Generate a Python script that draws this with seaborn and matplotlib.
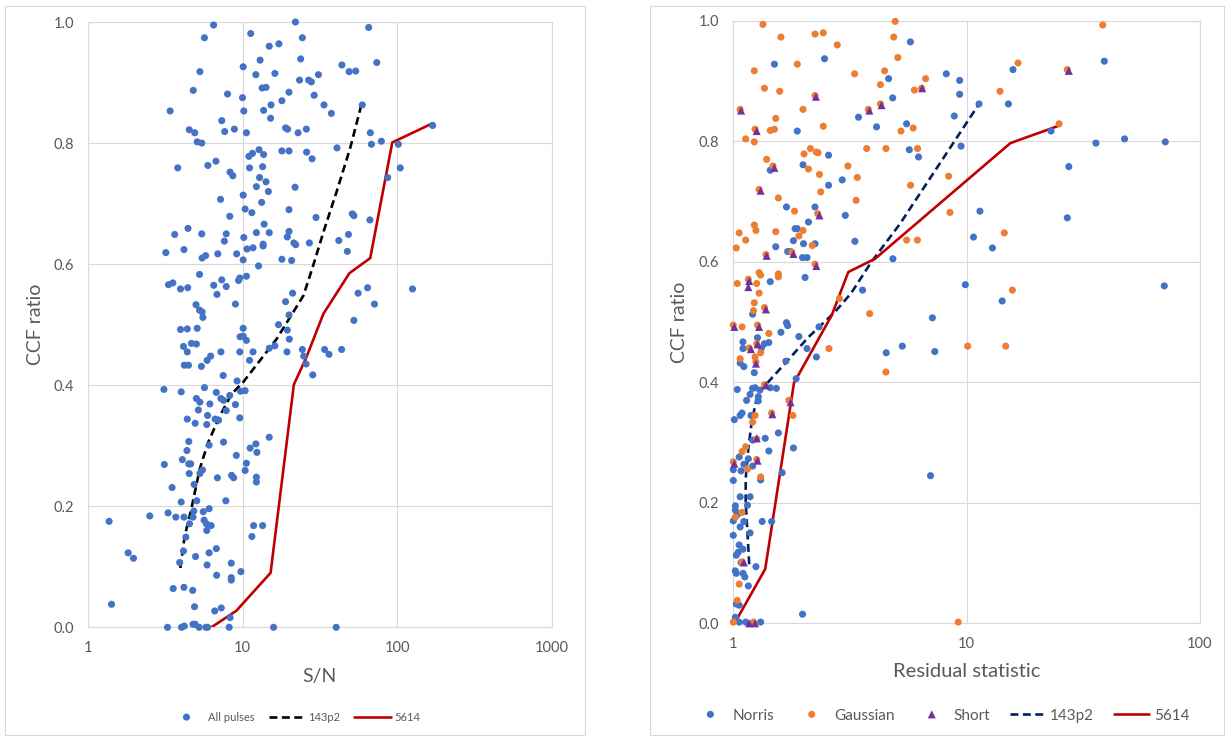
import numpy as np
import matplotlib
matplotlib.use("Agg")
import matplotlib.pyplot as plt
import seaborn as sns
from matplotlib.ticker import FixedLocator, FixedFormatter, NullLocator
from matplotlib.patches import Rectangle

sns.set_theme(style="white")
plt.rcParams["font.family"] = ["Lato", "DejaVu Sans"]

# ---------------- left panel data: S/N vs CCF ratio ----------------
sn_all = [
    6.5, 22.0, 65.6, 5.67, 11.3, 24.4, 17.2, 14.9, 74, 23.8,
    13.0, 44, 10.1, 49, 54, 5.3, 12.2, 16.2, 31, 23.4,
    26.8, 27.9, 4.8, 8.0, 20, 13.4, 14.2, 29.1, 10.0, 18.0,
    15.3, 33.7, 59.6, 3.4, 10.2, 13.7, 37.6, 15.2, 7.34, 4.52,
    4.91, 7.67, 8.86, 10.6, 19.0, 19.6, 22.9, 25.9, 67.2, 5.09,
    5.45, 68.3, 102, 79.2, 40.9, 18, 20, 12.8, 11.6, 13.7,
    11.0, 28.2, 26.0, 5.97, 6.73, 3.81, 11.1, 13.5, 8.31, 8.66,
    12.9, 14.2, 87, 105, 12.3, 14.7, 21.9, 10.1, 7.21, 13.3,
    10.4, 11.5, 20, 8.27, 29.9, 51.4, 52.6, 66.8, 4.44, 7.85,
    5.45, 3.64, 10.2, 19.5, 48.5, 12.3, 13.8, 14.9, 20, 42,
    7.63, 21.5, 22.1, 27.1, 4.18, 6.92, 3.19, 10.7, 11.7, 13.6,
    13.6, 47.7, 9.17, 18, 20.8, 5.48, 5.77, 10.1, 10.6, 12.7,
    5.27, 3.32, 3.54, 6.51, 7.34, 3.97, 4.42, 9.43, 7.85, 9.6,
    6.84, 64.5, 56, 21.1, 19.0, 71.5, 126, 20, 52.6, 9.0,
    5.0, 5.27, 5.48, 5.09, 5.54, 3.97, 4.39, 17.1, 34, 43.8,
    36.3, 10.1, 10.1, 9.65, 10.6, 9.6, 11.7, 7.25, 24.4, 16.2,
    14.9, 19.4, 20.1, 19.5, 5.03, 4.67, 4.15, 4.39, 5.9, 5.42,
    6.22, 11.1, 4.2, 4.47, 25.8, 24.9, 28.5, 7.5, 4.01, 3.1,
    5.67, 6.77, 7.25, 9.22, 8.27, 10.4, 9.71, 5.03, 5.3, 6.15,
    7.54, 9.0, 7.85, 6.65, 7.0, 9.6, 5.87, 4.94, 5.18, 4.39,
    5.94, 6.08, 7.54, 9.12, 11.2, 12.2, 12.4, 14.9, 4.49, 4.37,
    4.08, 4.49, 4.62, 3.12, 3.5, 4.52, 5.3, 5.51, 8.5, 8.76,
    6.88, 12.3, 12.3, 10.6, 10.4, 4.86, 5.06, 4.01, 7.8, 4.84,
    5.57, 6.08, 2.51, 3.3, 3.7, 4.18, 4.78, 4.54, 5.64, 5.84,
    6.26, 1.37, 11.8, 13.5, 4.3, 11.5, 5.87, 1.82, 1.97, 4.15,
    6.08, 6.77, 4.97, 3.92, 5.9, 8.46, 9.77, 6.8, 8.46, 8.46,
    3.56, 4.18, 4.76, 4.89, 6.61, 7.29, 1.42, 8.31, 170,
    3.27, 4.03, 4.2, 4.78, 5.24, 5.8, 5.94, 8.2, 15.9, 40.4, 4.94,
]
ccf_all = [
    0.995, 1.0, 0.991, 0.974, 0.981, 0.974, 0.964, 0.960, 0.933, 0.939,
    0.937, 0.929, 0.926, 0.918, 0.919, 0.918, 0.913, 0.915, 0.913, 0.904,
    0.904, 0.901, 0.887, 0.881, 0.884, 0.891, 0.892, 0.879, 0.875, 0.870,
    0.863, 0.863, 0.863, 0.853, 0.853, 0.854, 0.849, 0.841, 0.837, 0.822,
    0.817, 0.819, 0.823, 0.817, 0.825, 0.823, 0.817, 0.823, 0.817, 0.802,
    0.800, 0.798, 0.798, 0.803, 0.792, 0.787, 0.787, 0.789, 0.783, 0.781,
    0.778, 0.774, 0.785, 0.763, 0.770, 0.759, 0.759, 0.761, 0.752, 0.746,
    0.743, 0.736, 0.743, 0.759, 0.728, 0.720, 0.727, 0.714, 0.707, 0.702,
    0.691, 0.685, 0.690, 0.679, 0.677, 0.683, 0.680, 0.673, 0.659, 0.650,
    0.650, 0.649, 0.644, 0.645, 0.649, 0.652, 0.666, 0.652, 0.654, 0.639,
    0.638, 0.635, 0.632, 0.635, 0.624, 0.617, 0.619, 0.625, 0.627, 0.633,
    0.630, 0.621, 0.617, 0.608, 0.606, 0.610, 0.614, 0.607, 0.580, 0.597,
    0.583, 0.566, 0.569, 0.565, 0.574, 0.559, 0.561, 0.573, 0.563, 0.577,
    0.550, 0.561, 0.552, 0.552, 0.538, 0.534, 0.559, 0.516, 0.507, 0.534,
    0.533, 0.524, 0.521, 0.494, 0.512, 0.492, 0.493, 0.500, 0.459, 0.459,
    0.451, 0.494, 0.481, 0.480, 0.474, 0.455, 0.455, 0.455, 0.459, 0.465,
    0.461, 0.455, 0.476, 0.491, 0.468, 0.469, 0.464, 0.455, 0.441, 0.431,
    0.448, 0.441, 0.433, 0.433, 0.435, 0.448, 0.417, 0.416, 0.389, 0.393,
    0.396, 0.388, 0.378, 0.407, 0.383, 0.391, 0.390, 0.378, 0.372, 0.369,
    0.375, 0.368, 0.358, 0.344, 0.342, 0.346, 0.335, 0.337, 0.359, 0.344,
    0.350, 0.301, 0.306, 0.284, 0.296, 0.303, 0.289, 0.314, 0.307, 0.292,
    0.277, 0.270, 0.270, 0.269, 0.231, 0.254, 0.254, 0.260, 0.251, 0.247,
    0.247, 0.248, 0.240, 0.271, 0.259, 0.236, 0.209, 0.207, 0.209, 0.192,
    0.191, 0.196, 0.184, 0.189, 0.182, 0.182, 0.182, 0.171, 0.177, 0.171,
    0.168, 0.175, 0.168, 0.168, 0.149, 0.150, 0.160, 0.123, 0.114, 0.126,
    0.123, 0.130, 0.117, 0.107, 0.103, 0.106, 0.092, 0.086, 0.082, 0.078,
    0.064, 0.066, 0.061, 0.034, 0.027, 0.032, 0.038, 0.016, 0.829,
    0.0, 0.0, 0.002, 0.005, 0.0, 0.0, 0.0, 0.0, 0.0, 0.0, 0.005,
]

sn_143p2 = [3.96, 4.22, 4.66, 5.28, 5.98, 7.13, 8.48, 10.1, 12.9, 16.6,
            24.8, 28.7, 33.4, 40.7, 49.8, 59.6]
ccf_143p2_l = [0.098, 0.150, 0.195, 0.261, 0.305, 0.349, 0.385, 0.405, 0.440, 0.476,
               0.548, 0.598, 0.653, 0.720, 0.792, 0.869]
sn_5614 = [6.29, 9.14, 15.2, 21.5, 25.9, 33.4, 49.2, 67.1, 93.2, 171]
ccf_5614_l = [0.0, 0.0275, 0.090, 0.401, 0.446, 0.518, 0.585, 0.610, 0.801, 0.833]

# ---------------- right panel data: residual statistic vs CCF ratio ----------------
norris_res = [
    5.74, 1.50, 2.46, 4.63, 4.82, 3.44, 4.11, 5.53, 1.88, 2.56,
    5.68, 6.22, 1.44, 1.99, 2.93, 2.56, 1.69, 2.24, 3.02, 2.10,
    1.84, 1.88, 1.81, 2.0, 2.24, 1.52, 1.71, 1.76, 1.98, 2.07,
    3.32, 4.83, 2.03, 1.44, 3.58, 1.21, 1.69, 1.71, 1.60, 1.91,
    2.33, 1.10, 1.27, 1.36, 1.42, 1.10, 1.32, 2.07, 1.07, 1.11,
    1.68, 2.27, 4.52, 5.3, 1.23, 1.86, 1.04, 1.21, 1.24, 1.18,
    1.44, 1.53, 1.30, 1.14, 1.28, 1.28, 1.07, 1.09, 1.01, 1.19,
    1.56, 1.37, 1.21, 1.42, 1.81, 1.06, 1.16, 1.11, 1.21, 1.0,
    1.08, 1.31, 1.62, 1.0, 1.07, 1.18, 1.15, 1.02, 1.02, 1.04,
    1.0, 1.11, 1.33, 1.46, 1.07, 1.18, 1.0, 1.06, 1.10, 1.05,
    1.03, 1.08, 1.25, 1.02, 1.03, 1.10, 1.12, 1.16, 1.03, 1.06,
    1.98, 1.02, 1.06, 1.13, 1.31,
    8.18, 9.33, 9.33, 8.85, 11.3, 15.8, 15.1, 38.9, 9.46, 23.0,
    35.8, 47.5, 71.0, 27.4, 11.4, 27.0, 10.7, 12.9, 9.87, 14.2,
    7.13, 70.3, 7.3, 7.0,
]
norris_ccf = [
    0.965, 0.928, 0.937, 0.904, 0.872, 0.840, 0.824, 0.829, 0.817, 0.777,
    0.786, 0.774, 0.752, 0.761, 0.736, 0.727, 0.691, 0.691, 0.677, 0.666,
    0.655, 0.655, 0.635, 0.630, 0.630, 0.625, 0.617, 0.617, 0.607, 0.607,
    0.634, 0.605, 0.574, 0.567, 0.553, 0.513, 0.499, 0.494, 0.483, 0.476,
    0.492, 0.467, 0.474, 0.464, 0.466, 0.456, 0.457, 0.456, 0.432, 0.426,
    0.435, 0.442, 0.449, 0.460, 0.416, 0.406, 0.388, 0.390, 0.391, 0.380,
    0.391, 0.390, 0.387, 0.370, 0.376, 0.369, 0.345, 0.349, 0.338, 0.345,
    0.316, 0.307, 0.304, 0.286, 0.291, 0.276, 0.273, 0.264, 0.261, 0.255,
    0.253, 0.238, 0.250, 0.237, 0.210, 0.210, 0.196, 0.195, 0.188, 0.180,
    0.170, 0.169, 0.169, 0.169, 0.160, 0.150, 0.146, 0.130, 0.123, 0.118,
    0.113, 0.101, 0.094, 0.087, 0.083, 0.083, 0.077, 0.062, 0.032, 0.030,
    0.015, 0.010, 0.002, 0.002, 0.002,
    0.912, 0.901, 0.878, 0.842, 0.862, 0.919, 0.862, 0.933, 0.792, 0.817,
    0.797, 0.804, 0.799, 0.758, 0.684, 0.673, 0.641, 0.623, 0.562, 0.535,
    0.507, 0.560, 0.451, 0.245,
]

gauss_res = [
    1.34, 1.60, 2.24, 2.43, 2.79, 4.94, 4.87, 5.07, 1.88, 1.23,
    3.31, 4.45, 4.27, 1.36, 1.58, 2.24, 1.99, 1.07, 3.79, 4.27,
    1.52, 2.43, 1.24, 1.44, 1.50, 5.23, 5.9, 1.13, 1.23, 2.14,
    2.27, 2.31, 2.01, 3.73, 4.51, 6.16, 1.39, 1.48, 3.1, 2.10,
    3.4, 2.34, 5.75, 1.29, 2.37, 1.56, 3.36, 1.83, 2.30, 1.23,
    5.97, 6.41, 6.67,
    1.25, 1.06, 1.52, 1.13, 1.99, 1.91, 1.03, 2.18, 5.53,
    6.15, 1.38, 1.78, 2.24, 1.29, 1.31, 1.56, 1.56, 1.16, 1.04,
    1.26, 1.29, 1.23, 1.22, 1.36, 2.85, 3.84, 1.0, 1.09, 1.27,
    1.42, 1.26, 1.17, 1.31, 1.07, 1.24, 1.25, 2.57, 4.51, 1.36,
    1.73, 1.80, 1.24, 1.46, 1.21,
    1.13, 1.09, 1.26, 1.26, 1.0, 1.15, 1.31, 1.09, 1.02, 1.09,
    1.06, 1.04, 1.0, 1.22,
    38.3, 16.6, 27.0, 13.9, 24.9, 8.37, 8.48, 14.5, 15.7, 10.1,
    14.7, 9.2,
]
gauss_ccf = [
    0.994, 0.973, 0.978, 0.980, 0.960, 0.999, 0.973, 0.939, 0.928, 0.917,
    0.912, 0.917, 0.894, 0.888, 0.883, 0.876, 0.853, 0.853, 0.853, 0.862,
    0.838, 0.825, 0.820, 0.818, 0.820, 0.817, 0.822, 0.804, 0.799, 0.788,
    0.782, 0.781, 0.779, 0.788, 0.788, 0.788, 0.770, 0.759, 0.759, 0.754,
    0.740, 0.745, 0.727, 0.720, 0.716, 0.706, 0.702, 0.684, 0.680, 0.661,
    0.885, 0.888, 0.904,
    0.652, 0.648, 0.650, 0.636, 0.652, 0.643, 0.623, 0.627, 0.636,
    0.636, 0.612, 0.616, 0.596, 0.582, 0.578, 0.580, 0.575, 0.571, 0.564,
    0.564, 0.548, 0.532, 0.519, 0.524, 0.539, 0.514, 0.495, 0.492, 0.495,
    0.481, 0.464, 0.457, 0.449, 0.439, 0.442, 0.434, 0.456, 0.417, 0.396,
    0.370, 0.345, 0.345, 0.349, 0.334,
    0.293, 0.285, 0.306, 0.272, 0.268, 0.256, 0.243, 0.184, 0.176, 0.102,
    0.065, 0.038, 0.002, 0.002,
    0.993, 0.930, 0.919, 0.883, 0.829, 0.742, 0.682, 0.648, 0.553, 0.460,
    0.460, 0.002,
]

short_res = [2.26, 1.08, 3.83, 4.32, 1.26, 1.50, 1.31, 2.34, 6.45, 1.39,
             1.81, 2.27, 1.17, 1.16, 1.38, 1.01, 1.29, 1.27, 1.19, 1.25,
             1.38, 1.76, 1.47, 1.26, 1.27, 1.01, 1.11, 1.17, 1.24, 27.4]
short_ccf = [0.874, 0.851, 0.851, 0.860, 0.817, 0.756, 0.718, 0.677, 0.888, 0.610,
             0.613, 0.593, 0.568, 0.558, 0.521, 0.492, 0.492, 0.463, 0.455, 0.431,
             0.395, 0.367, 0.347, 0.307, 0.270, 0.265, 0.101, 0.0, 0.0, 0.917]

res_143p2 = [1.17, 1.15, 1.13, 1.13, 1.16, 1.20, 1.27, 1.37, 1.69, 2.10,
             2.73, 3.2, 3.91, 5.18, 11.3]
ccf_143p2_r = [0.098, 0.150, 0.200, 0.240, 0.290, 0.335, 0.380, 0.395, 0.434, 0.475,
               0.517, 0.548, 0.600, 0.663, 0.862]
res_5614 = [1.03, 1.37, 1.82, 2.64, 3.11, 4.05, 15.4, 24.9]
ccf_5614_r = [0.005, 0.090, 0.399, 0.511, 0.583, 0.605, 0.797, 0.826]

left_xticks = [1, 10, 100, 1000]
right_xticks = [1, 10, 100]
yticks = [0.0, 0.2, 0.4, 0.6, 0.8, 1.0]

BLUE, ORANGE, PURPLE, RED = "#4472C4", "#ED7D31", "#7030A0", "#C00000"
GREY_TXT, GRID = "#595959", "#D9D9D9"

W, H = 1229, 739
fig = plt.figure(figsize=(W / 100, H / 100), dpi=100)
axL = fig.add_axes([88 / W, 1 - 627.3 / H, (551.5 - 88) / W, (627.3 - 22) / H])
axR = fig.add_axes([733.3 / W, 1 - 623.3 / H, (1200 - 733.3) / W, (623.3 - 20.8) / H])

# panel frames
for (x0, y0, x1, y1) in [(5, 6, 585, 735), (650, 6, 1224, 735)]:
    fig.add_artist(Rectangle((x0 / W, 1 - y1 / H), (x1 - x0) / W, (y1 - y0) / H,
                             transform=fig.transFigure, fill=False,
                             edgecolor=GRID, lw=0.8))

def style(ax, xmax, ticks):
    ax.set_xscale("log")
    ax.set_xlim(1, xmax)
    ax.set_ylim(0, 1)
    ax.xaxis.set_major_locator(FixedLocator(ticks))
    ax.xaxis.set_major_formatter(FixedFormatter([str(t) for t in ticks]))
    ax.xaxis.set_minor_locator(NullLocator())
    ax.yaxis.set_major_locator(FixedLocator(yticks))
    ax.yaxis.set_major_formatter(FixedFormatter([f"{v:.1f}" for v in yticks]))
    ax.grid(True, color=GRID, lw=0.8)
    ax.set_axisbelow(True)
    for s in ax.spines.values():
        s.set_visible(True)
        s.set_color(GRID)
        s.set_linewidth(0.8)
    ax.tick_params(length=0, pad=10, labelsize=10.5, labelcolor=GREY_TXT)

# ---- left ----
sns.lineplot(x=sn_143p2, y=ccf_143p2_l, ax=axL, sort=False, estimator=None,
             color="black", lw=1.9, label="143p2", zorder=2)
axL.lines[-1].set_linestyle((0, (3, 1.7)))
sns.lineplot(x=sn_5614, y=ccf_5614_l, ax=axL, sort=False, estimator=None,
             color=RED, lw=1.9, label="5614", zorder=2)
sns.scatterplot(x=sn_all, y=ccf_all, ax=axL, color=BLUE, s=26, edgecolor="none",
                label="All pulses", zorder=3, clip_on=False)
style(axL, 1000, left_xticks)
axL.set_xlabel("S/N", fontsize=14, color=GREY_TXT, va="center")
axL.xaxis.set_label_coords(0.5, -0.0813)
axL.set_ylabel("CCF ratio", fontsize=14, color=GREY_TXT, va="center")
axL.yaxis.set_label_coords(-0.114, 0.5)

h, l = axL.get_legend_handles_labels()
order = [l.index("All pulses"), l.index("143p2"), l.index("5614")]
axL.legend([h[i] for i in order], [l[i] for i in order], loc="center",
           bbox_to_anchor=(294 / W, 1 - 717.5 / H), bbox_transform=fig.transFigure,
           ncol=3, frameon=False, fontsize=8, handlelength=3.3, handletextpad=0.25,
           columnspacing=1.3, labelcolor=GREY_TXT, scatterpoints=1,
           scatteryoffsets=[0.5])

# ---- right ----
sns.lineplot(x=res_143p2, y=ccf_143p2_r, ax=axR, sort=False, estimator=None,
             color="#002060", lw=1.9, label="143p2", zorder=2)
axR.lines[-1].set_linestyle((0, (3, 1.7)))
sns.lineplot(x=res_5614, y=ccf_5614_r, ax=axR, sort=False, estimator=None,
             color=RED, lw=1.9, label="5614", zorder=2)
sns.scatterplot(x=norris_res, y=norris_ccf, ax=axR, color=BLUE, s=26,
                edgecolor="none", label="Norris", zorder=3, clip_on=False)
sns.scatterplot(x=gauss_res, y=gauss_ccf, ax=axR, color=ORANGE, s=26,
                edgecolor="none", label="Gaussian", zorder=3, clip_on=False)
sns.scatterplot(x=short_res, y=short_ccf, ax=axR, color=PURPLE, s=34, marker="^",
                edgecolor="none", label="Short", zorder=3, clip_on=False)
style(axR, 100, right_xticks)
axR.set_xlabel("Residual statistic", fontsize=14.5, color=GREY_TXT, va="center")
axR.xaxis.set_label_coords(0.5, -0.0792)
axR.set_ylabel("CCF ratio", fontsize=14, color=GREY_TXT, va="center")
axR.yaxis.set_label_coords(-0.1148, 0.5)

h, l = axR.get_legend_handles_labels()
names = ["Norris", "Gaussian", "Short", "143p2", "5614"]
axR.legend([h[l.index(n)] for n in names], names, loc="center",
           bbox_to_anchor=(941 / W, 1 - 715.7 / H), bbox_transform=fig.transFigure,
           ncol=5, frameon=False, fontsize=11, handlelength=2.3, handletextpad=0.3,
           columnspacing=1.3, labelcolor=GREY_TXT, scatterpoints=1,
           scatteryoffsets=[0.5])

fig.savefig("out.png", dpi=100)
